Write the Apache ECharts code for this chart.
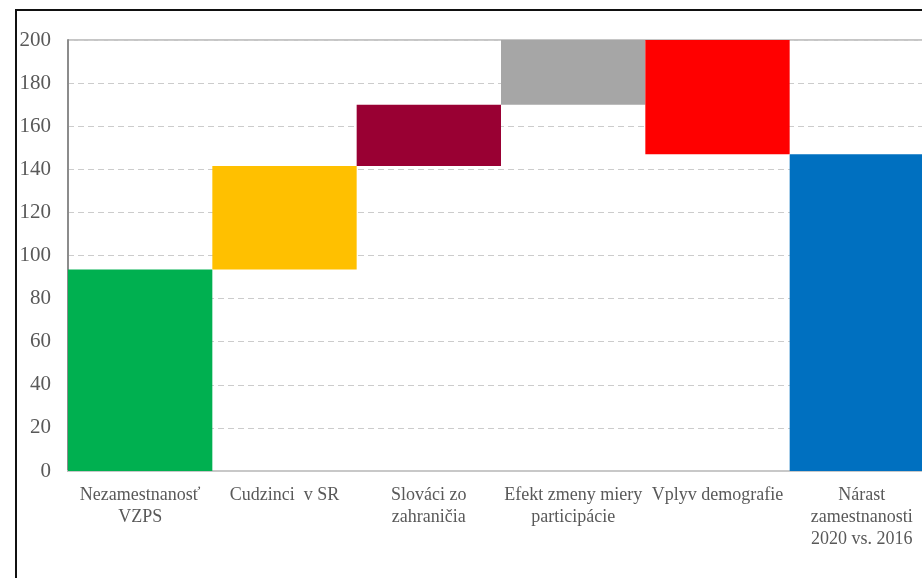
<!DOCTYPE html>
<html><head><meta charset="utf-8">
<script src="https://cdn.jsdelivr.net/npm/echarts@6/dist/echarts.min.js"></script>
<style>
html,body{margin:0;padding:0;background:#fff;overflow:hidden;width:922px;height:578px;}
#frame{position:absolute;left:15px;top:9px;width:1000px;height:700px;border:2px solid #111;box-sizing:border-box;}
#chart{position:absolute;left:0;top:0;width:1000px;height:578px;}
</style></head>
<body>
<div id="frame"></div>
<div id="chart"></div>
<script>
const categories = ["Nezamestnanosť\nVZPS", "Cudzinci  v SR", "Slováci zo\nzahraničia", "Efekt zmeny miery\nparticipácie", "Vplyv demografie", "Nárast\nzamestnanosti\n2020 vs. 2016"];
const baseValues = [0, 93.5, 141.5, 170, 147, 0];
const barValues = [93.5, 48, 28.5, 30, 53, 147];
const barColors = ["#00B050", "#FFC000", "#990033", "#A6A6A6", "#FF0000", "#0070C0"];
const yTicks = [0, 20, 40, 60, 80, 100, 120, 140, 160, 180, 200];

const chart = echarts.init(document.getElementById('chart'), null, {renderer: 'canvas'});
const font = '"Liberation Serif", "Times New Roman", serif';
chart.setOption({
  animation: false,
  grid: {left: 68, top: 40, width: 866, height: 431, show: true, borderColor: '#8c8c8c', borderWidth: 1, backgroundColor: 'transparent'},
  xAxis: {
    type: 'category', data: categories,
    axisLine: {lineStyle: {color: '#c8c8c8', width: 2}},
    axisTick: {show: false},
    axisLabel: {interval: 0, color: '#595959', fontFamily: font, fontSize: 18, lineHeight: 22, margin: 13}
  },
  yAxis: {
    type: 'value', min: 0, max: 200, interval: 20,
    axisLine: {show: true, lineStyle: {color: '#8c8c8c', width: 2}},
    axisTick: {show: false},
    axisLabel: {color: '#595959', fontFamily: font, fontSize: 21, margin: 17,
      formatter: v => yTicks.includes(v) ? String(v) : ''},
    splitLine: {lineStyle: {color: '#cccccc', type: [6, 4], width: 1}}
  },
  series: [
    {type: 'bar', stack: 'w', data: baseValues, itemStyle: {color: 'transparent'}, barCategoryGap: '0%', silent: true},
    {type: 'bar', stack: 'w', data: barValues.map((v, i) => ({value: v, itemStyle: {color: barColors[i]}})), barCategoryGap: '0%'}
  ]
});
</script>
</body></html>
